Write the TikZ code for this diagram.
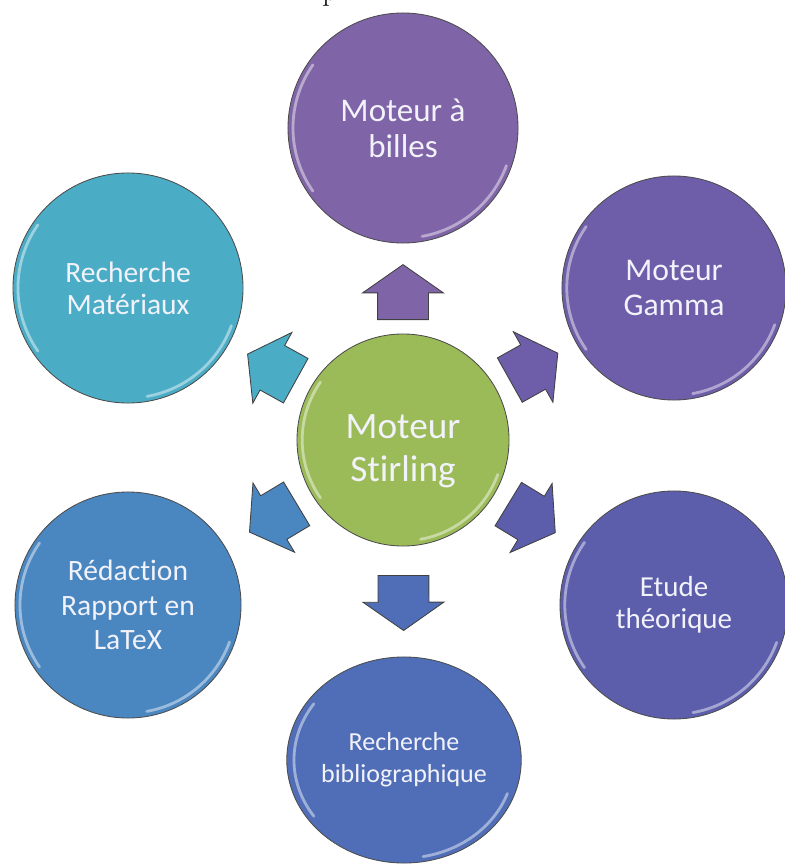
\documentclass[tikz,border=0pt]{standalone}
\usepackage{fontspec}
\setsansfont[Ligatures=NoCommon]{Carlito}
\usetikzlibrary{shapes.geometric,shapes.arrows}

\definecolor{cstirling}{RGB}{155,187,89}
\definecolor{cbilles}{RGB}{128,100,168}
\definecolor{cgamma}{RGB}{110,94,170}
\definecolor{cetude}{RGB}{92,94,172}
\definecolor{cbiblio}{RGB}{80,110,184}
\definecolor{credac}{RGB}{74,134,192}
\definecolor{cmater}{RGB}{75,172,198}
\definecolor{texteclair}{RGB}{242,242,250}

\tikzset{
	bulle/.style={circle, draw=black!70, line width=0.6pt, text=texteclair, align=center, inner sep=0pt},
	fleche/.style={single arrow, draw=black!75, line width=0.6pt, minimum height=1.375cm, inner xsep=0pt, inner ysep=0.625cm,
		single arrow head extend=0.375cm, single arrow tip angle=110, sloped, allow upside down, anchor=tail},
	reflet/.style={white, opacity=0.45, line width=2pt, line cap=round}
}

\newcommand\taille[2]{\sffamily\fontsize{#1}{#2}\selectfont}
\newcommand\reflets[2]{%
	\draw[reflet] ([shift={(145:#2)}]#1.center) arc[start angle=145, end angle=215, radius=#2];
	\draw[reflet] ([shift={(-80:#2)}]#1.center) arc[start angle=-80, end angle=-20, radius=#2];}

\begin{document}
\begin{tikzpicture}[x=0.025cm, y=-0.025cm]
	\useasboundingbox (0,0) rectangle (784,865);
	\node [anchor=base west, inner sep=0pt, font=\fontsize{21}{21}\selectfont] (bout) at (322,1) {p};
	% les bulles
	\node [bulle, fill=cstirling, minimum size=5.3cm, font=\taille{26.5}{30}] (stirling) at (403,440) {\rule{0pt}{33pt}Moteur\\Stirling};
	\node [bulle, fill=cbilles, minimum size=5.75cm, font=\taille{23.5}{25.6}] (billes) at (403,128) {Moteur à\\billes};
	\node [bulle, fill=cgamma, minimum size=5.6cm, font=\taille{22.5}{25}] (gamma) at (674,288) {Moteur\\Gamma};
	\node [bulle, fill=cetude, minimum size=5.7cm, font=\taille{20.6}{22.8}] (etude) at (674,605) {Etude\\théorique};
	\node [bulle, ellipse, fill=cbiblio, minimum width=5.75cm, minimum height=5.15cm, font=\taille{18.5}{22.8}] (biblio) at (404,760) {Recherche\\bibliographique};
	\node [bulle, fill=credac, minimum size=5.65cm, font=\taille{21}{24.5}] (redac) at (128,605) {Rédaction\\Rapport en\\LaTeX};
	\node [bulle, fill=cmater, minimum size=5.75cm, font=\taille{21}{22.8}] (mater) at (128,288) {Recherche\\Matériaux};
	% les reflets
	\reflets{stirling}{2.52cm}
	\reflets{billes}{2.75cm}
	\reflets{gamma}{2.68cm}
	\reflets{etude}{2.73cm}
	\reflets{redac}{2.7cm}
	\reflets{mater}{2.75cm}
	\draw[reflet] ([shift={(145:2.75cm and 2.45cm)}]biblio.center) arc[start angle=145, end angle=215, x radius=2.75cm, y radius=2.45cm];
	\draw[reflet] ([shift={(-80:2.75cm and 2.45cm)}]biblio.center) arc[start angle=-80, end angle=-20, x radius=2.75cm, y radius=2.45cm];
	% les fleches
	\path (stirling) -- node [fleche, pos=0.15, fill=cbilles] (fbilles) {} (billes);
	\path (stirling) -- node [fleche, pos=0.17, fill=cgamma] (fgamma) {} (gamma);
	\path (stirling) -- node [fleche, pos=0.17, fill=cetude] (fetude) {} (etude);
	\path (stirling) -- node [fleche, pos=0.26, fill=cbiblio] (fbiblio) {} (biblio);
	\path (stirling) -- node [fleche, pos=0.17, fill=credac] (fredac) {} (redac);
	\path (stirling) -- node [fleche, pos=0.17, fill=cmater] (fmater) {} (mater);
\end{tikzpicture}
\end{document}
